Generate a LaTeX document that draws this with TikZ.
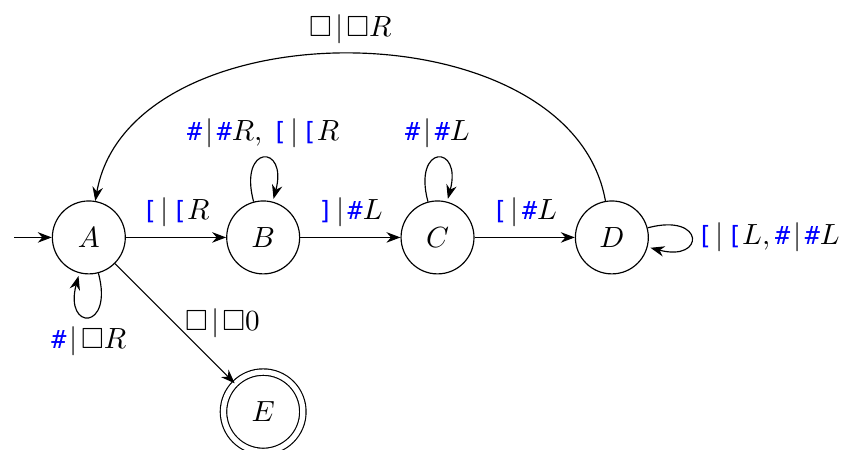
\documentclass[tikz,border=0pt]{standalone}
\usepackage{amssymb}
\usepackage{amsmath}
\usepackage{xcolor}
\usepackage{fontspec}
\newfontfamily\tapefont{DejaVu Sans Mono}[Scale=0.86]
\usetikzlibrary{arrows.meta,automata,positioning}

\newcommand{\tsym}[1]{\textcolor{blue}{\text{\tapefont #1}}}
\newcommand{\tbar}{\mkern2mu|\mkern2mu}

\begin{document}
\begin{tikzpicture}[
  >={Stealth}, auto,
  node distance=2.1cm, on grid,
  every state/.style={minimum size=2.5em, inner sep=0pt},
  final/.style={state, double, double distance=1.8pt, minimum size=2.72em},
  link/.style={-{Stealth}},
  initial text={}
]
  \useasboundingbox (-1.07,-2.55) rectangle (9.06,2.86);

  \node[state, initial]      (A) {$A$};
  \node[state, right=of A]   (B) {$B$};
  \node[state, right=of B]   (C) {$C$};
  \node[state, right=of C]   (D) {$D$};
  \node[final, below=of B]   (E) {$E$};

  \draw[link] (A) -- node {$\tsym{[}\tbar\tsym{[}R$} (B);
  \draw[link] (B) -- node {$\tsym{]}\tbar\tsym{\#}L$} (C);
  \draw[link] (C) -- node {$\tsym{[}\tbar\tsym{\#}L$} (D);
  \draw[link] (A) -- node[right] {$\square\tbar\square 0$} (E);
  \draw[link] (D) to[bend right=80] node[swap] {$\square\tbar\square R$} (A);

  \draw[link] (A) edge[loop below] node {$\tsym{\#}\tbar\square R$} ();
  \draw[link] (B) edge[loop above] node {$\tsym{\#}\tbar\tsym{\#}R,\,\tsym{[}\tbar\tsym{[}R$} ();
  \draw[link] (C) edge[loop above] node {$\tsym{\#}\tbar\tsym{\#}L$} ();
  \draw[link] (D) edge[loop right] node[inner sep=2pt] {$\tsym{[}\tbar\tsym{[}L,\tsym{\#}\tbar\tsym{\#}L$} ();
\end{tikzpicture}
\end{document}
